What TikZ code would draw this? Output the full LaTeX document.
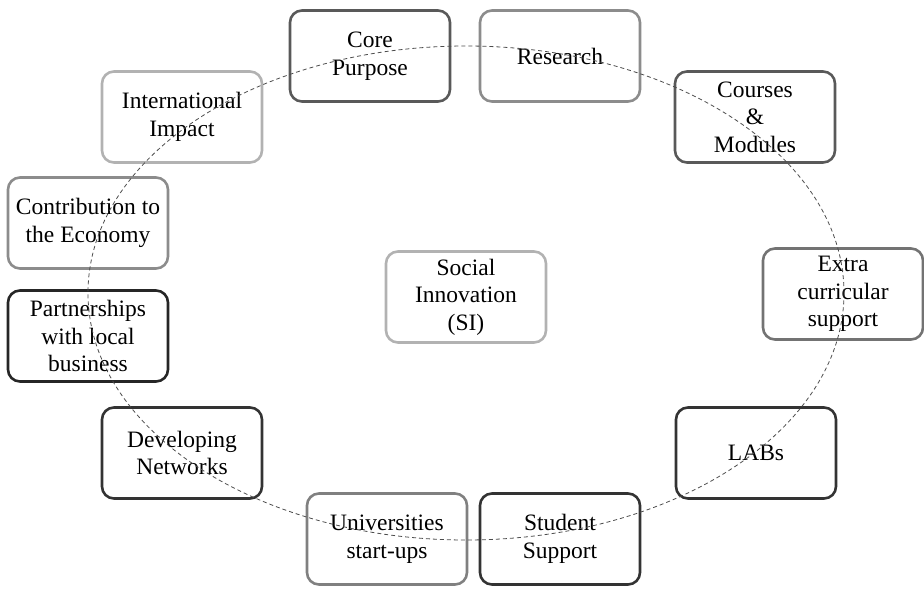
\documentclass[tikz,border=0pt]{standalone}
\usepackage{fontspec}
\setmainfont{Liberation Serif}
\begin{document}
\begin{tikzpicture}[x=1pt,y=-1pt,
  box/.style={draw=#1, line width=2.6pt, rounded corners=12pt, minimum width=160pt, minimum height=91pt, align=center, inner sep=2pt, font=\fontsize{23.5}{27.5}\selectfont},
  ring/.style={draw=black!70, line width=0.8pt, dash pattern=on 4pt off 3pt}]
\useasboundingbox (0,0) rectangle (924,589);
\node[box=black!65] (core) at (370,56) {Core\\Purpose};
\node[box=black!45] (research) at (560,56) {Research};
\node[box=black!30] (intl) at (182,117) {International\\Impact};
\node[box=black!65] (courses) at (755,117) {Courses\\\&\\Modules};
\node[box=black!45] (contrib) at (88,223) {Contribution to\\the Economy};
\node[box=black!30] (si) at (466,297) {Social\\Innovation\\(SI)};
\node[box=black!55] (extra) at (843,294) {Extra\\curricular\\support};
\node[box=black!85] (partner) at (88,336) {Partnerships\\with local\\business};
\node[box=black!80] (networks) at (182,453) {Developing\\Networks};
\node[box=black!80] (labs) at (756,453) {LABs};
\node[box=black!50] (startups) at (387,539) {Universities\\start-ups};
\node[box=black!80] (student) at (560,539) {Student\\Support};
\coordinate (c) at (466,293);
\draw[ring] (c) ellipse [x radius=378pt, y radius=247pt];
\end{tikzpicture}
\end{document}
